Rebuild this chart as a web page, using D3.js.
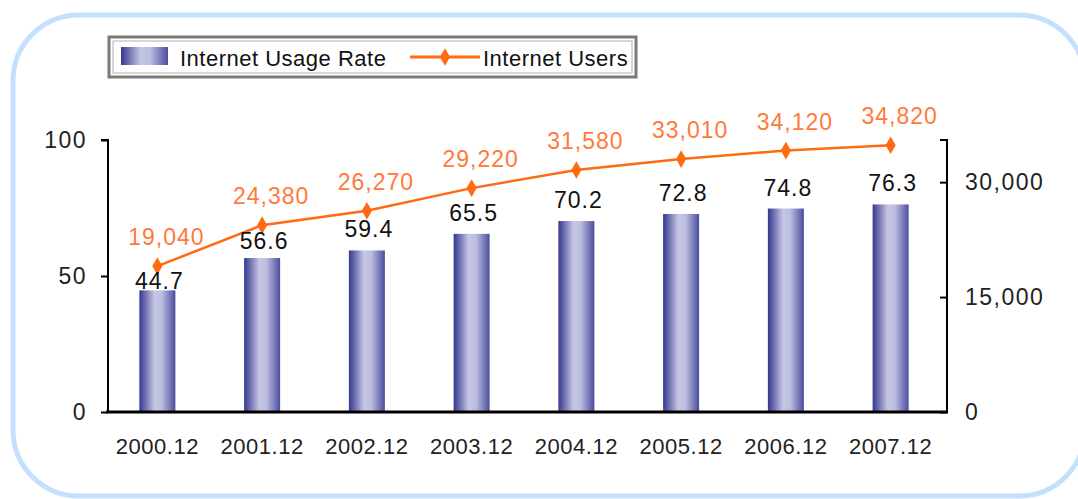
<!DOCTYPE html>
<html>
<head>
<meta charset="utf-8">
<script src="https://cdn.jsdelivr.net/npm/d3@7"></script>
<style>
  body { margin: 0; background: #fff; }
  svg text { font-family: "Liberation Sans", Arial, sans-serif; }
</style>
</head>
<body>
<svg id="chart" width="1078" height="499"></svg>
<script>
// data
const periods = ['2000.12', '2001.12', '2002.12', '2003.12', '2004.12', '2005.12', '2006.12', '2007.12'];
const usageRate = [44.7, 56.6, 59.4, 65.5, 70.2, 72.8, 74.8, 76.3];
const users = [19040, 24380, 26270, 29220, 31580, 33010, 34120, 34820];
const leftTicks = [0, 50, 100];
const rightTicks = [0, 15000, 30000];

const width = 1078;
const height = 499;
const margin = { top: 140, right: 131, bottom: 87, left: 108 };

const svg = d3.select('#chart');

// gradient for bars
const defs = svg.append('defs');
const grad = defs.append('linearGradient')
  .attr('id', 'barGrad')
  .attr('x1', '0%').attr('x2', '100%')
  .attr('y1', '0%').attr('y2', '0%');
grad.append('stop').attr('offset', '0%').attr('stop-color', '#35378f');
grad.append('stop').attr('offset', '42%').attr('stop-color', '#c6c6e4');
grad.append('stop').attr('offset', '62%').attr('stop-color', '#bdbde0');
grad.append('stop').attr('offset', '100%').attr('stop-color', '#4b4d9e');

// rounded frame
svg.append('rect')
  .attr('x', 13)
  .attr('y', 15)
  .attr('width', 1072)
  .attr('height', 481)
  .attr('rx', 66)
  .attr('fill', 'none')
  .attr('stroke', '#c4e0ff')
  .attr('stroke-width', 5);

const x = d3.scaleBand()
  .domain(periods)
  .range([105, 943]);

const yLeft = d3.scaleLinear()
  .domain([0, 100])
  .range([height - margin.bottom, margin.top]);

const yRight = d3.scaleLinear()
  .domain([0, 35500])
  .range([height - margin.bottom, margin.top]);

const cx = (d) => x(d) + x.bandwidth() / 2;
const barWidth = 36;

// bars
svg.append('g')
  .selectAll('rect')
  .data(periods)
  .enter()
  .append('rect')
  .attr('x', (d) => cx(d) - barWidth / 2)
  .attr('y', (d, i) => yLeft(usageRate[i]))
  .attr('width', barWidth)
  .attr('height', (d, i) => yLeft(0) - yLeft(usageRate[i]))
  .attr('fill', 'url(#barGrad)');

// axes
const leftAxis = svg.append('g')
  .attr('transform', `translate(${margin.left}, 0)`)
  .call(d3.axisLeft(yLeft).tickValues(leftTicks).tickSize(7).tickPadding(14));

const rightAxis = svg.append('g')
  .attr('transform', `translate(${width - margin.right}, 0)`)
  .call(d3.axisRight(yRight).tickValues(rightTicks).tickSize(-7).tickPadding(18)
    .tickFormat(d3.format(',')));

[leftAxis, rightAxis].forEach((g) => {
  g.select('.domain').attr('stroke', '#000').attr('stroke-width', 2);
  g.selectAll('.tick line').attr('stroke', '#000').attr('stroke-width', 2);
  g.selectAll('.tick text')
    .attr('fill', '#222')
    .style('font-size', '23px')
    .style('letter-spacing', '1.5px');
});
leftAxis.select('.domain').attr('d', `M-7,${margin.top}H0V${height - margin.bottom}`);
rightAxis.select('.domain').attr('d', `M-7,${margin.top}H0V${height - margin.bottom}`);

// baseline
svg.append('line')
  .attr('x1', margin.left - 2)
  .attr('x2', width - margin.right + 1)
  .attr('y1', yLeft(0))
  .attr('y2', yLeft(0))
  .attr('stroke', '#000')
  .attr('stroke-width', 3);

// x labels
svg.append('g')
  .selectAll('text')
  .data(periods)
  .enter()
  .append('text')
  .attr('x', cx)
  .attr('y', 454)
  .attr('text-anchor', 'middle')
  .attr('fill', '#222')
  .style('font-size', '22px')
  .style('letter-spacing', '0.5px')
  .text((d) => d);

// line
const line = d3.line()
  .x((d, i) => cx(periods[i]))
  .y((d) => yRight(d));

svg.append('path')
  .datum(users)
  .attr('d', line)
  .attr('fill', 'none')
  .attr('stroke', '#ff6a13')
  .attr('stroke-width', 2.5);

const diamond = d3.symbol().type(d3.symbolDiamond).size(90);
svg.append('g')
  .selectAll('path')
  .data(users)
  .enter()
  .append('path')
  .attr('d', diamond)
  .attr('transform', (d, i) => `translate(${cx(periods[i])}, ${yRight(d)})`)
  .attr('fill', '#ff6a13');

// line labels
svg.append('g')
  .selectAll('text')
  .data(users)
  .enter()
  .append('text')
  .attr('x', (d, i) => cx(periods[i]) + 9)
  .attr('y', (d) => yRight(d) - 21)
  .attr('text-anchor', 'middle')
  .attr('fill', '#ff7a3a')
  .style('font-size', '23px')
  .style('letter-spacing', '1px')
  .text((d) => d3.format(',')(d));

// bar labels, pushed down when they would hit the line
svg.append('g')
  .selectAll('text')
  .data(usageRate)
  .enter()
  .append('text')
  .attr('x', (d, i) => cx(periods[i]) + 2)
  .attr('y', (d, i) => {
    const top = yLeft(d);
    return Math.min(Math.max(top - 13, yRight(users[i]) + 24), top - 1);
  })
  .attr('text-anchor', 'middle')
  .attr('fill', '#111')
  .style('font-size', '23px')
  .style('letter-spacing', '1px')
  .text((d) => d.toFixed(1));

// legend
const legend = svg.append('g');
legend.append('rect')
  .attr('x', 109).attr('y', 37)
  .attr('width', 527).attr('height', 40)
  .attr('fill', '#fff')
  .attr('stroke', '#7a7a7a')
  .attr('stroke-width', 3);
legend.append('rect')
  .attr('x', 113).attr('y', 41)
  .attr('width', 519).attr('height', 32)
  .attr('fill', 'none')
  .attr('stroke', '#b0b0b0')
  .attr('stroke-width', 1);
legend.append('rect')
  .attr('x', 121).attr('y', 47)
  .attr('width', 47).attr('height', 18)
  .attr('fill', 'url(#barGrad)');
legend.append('text')
  .attr('x', 180).attr('y', 66)
  .attr('fill', '#111')
  .style('font-size', '22px')
  .style('letter-spacing', '0.5px')
  .text('Internet Usage Rate');
legend.append('line')
  .attr('x1', 410).attr('x2', 480)
  .attr('y1', 57).attr('y2', 57)
  .attr('stroke', '#ff6a13')
  .attr('stroke-width', 3);
legend.append('path')
  .attr('d', diamond)
  .attr('transform', 'translate(445, 57)')
  .attr('fill', '#ff6a13');
legend.append('text')
  .attr('x', 483).attr('y', 66)
  .attr('fill', '#111')
  .style('font-size', '22px')
  .style('letter-spacing', '0.5px')
  .text('Internet Users');
</script>
</body>
</html>
